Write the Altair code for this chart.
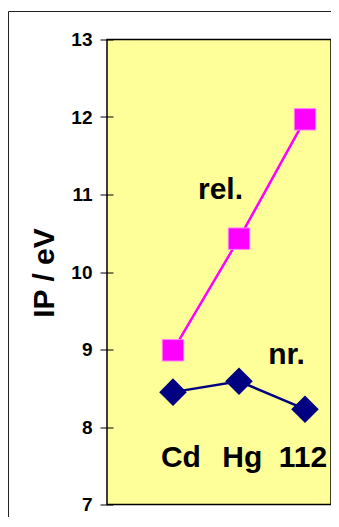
import altair as alt
import pandas as pd

# ---- data ----
elements = ["Cd", "Hg", "112"]
element_index = [0, 1, 2]
ip_rel = [8.99, 10.43, 11.97]   # relativistic
ip_nr = [8.45, 8.59, 8.23]      # non-relativistic
y_ticks = [7, 8, 9, 10, 11, 12, 13]

series_names = ["rel.", "nr."]
series_label_i = [0.72, 1.72]
series_label_ip = [10.94, 8.81]
element_label_i = [0.12, 1.05, 1.97]
element_label_ip = [7.49, 7.49, 7.49]

FONT = "Liberation Sans"

rel_df = pd.DataFrame({"i": element_index, "ip": ip_rel, "el": elements})
nr_df = pd.DataFrame({"i": element_index, "ip": ip_nr, "el": elements})
series_lab_df = pd.DataFrame({"i": series_label_i, "ip": series_label_ip, "t": series_names})
elem_lab_df = pd.DataFrame({"i": element_label_i, "ip": element_label_ip, "t": elements})

x_enc = alt.X("i:Q", scale=alt.Scale(domain=[-1, 2.394], nice=False, zero=False), axis=None)
y_enc = alt.Y(
    "ip:Q",
    scale=alt.Scale(domain=[7, 13], nice=False, zero=False),
    axis=alt.Axis(
        values=y_ticks, title="IP / eV", offset=-6, tickSize=13, tickColor="black",
        tickWidth=1, domain=False, grid=False,
        labelFont=FONT, labelFontSize=19, labelFontWeight="bold", labelColor="black",
        labelPadding=8,
        titleFont=FONT, titleFontSize=30, titleFontWeight="bold", titleColor="black",
        titleAngle=270, titleAlign="center", titleBaseline="alphabetic",
        titleX=-60, titleY=233,
    ),
)

frame = alt.Chart(alt.Data(values=[{}])).mark_rect(
    filled=False, stroke="#222222", strokeWidth=1, clip=False
).encode(x=alt.value(-98.5), x2=alt.value(500), y=alt.value(-28), y2=alt.value(700))

rel_line = alt.Chart(rel_df).mark_line(color="#FF00FF", strokeWidth=2.5).encode(x=x_enc, y=y_enc)
rel_pts = alt.Chart(rel_df).mark_point(
    shape="square", size=460, filled=True, fill="#FF00FF", stroke="#FF80FF",
    strokeWidth=1, opacity=1
).encode(x=x_enc, y=y_enc)

nr_line = alt.Chart(nr_df).mark_line(color="#000080", strokeWidth=2.5).encode(x=x_enc, y=y_enc)
nr_pts = alt.Chart(nr_df).mark_point(
    shape="diamond", size=760, filled=True, fill="#000080", opacity=1
).encode(x=x_enc, y=y_enc)

text_style = dict(font=FONT, fontSize=30, fontWeight="bold", color="black",
                  baseline="alphabetic", align="center")
series_text = alt.Chart(series_lab_df).mark_text(**text_style).encode(x=x_enc, y=y_enc, text="t:N")
elem_text = alt.Chart(elem_lab_df).mark_text(**text_style).encode(x=x_enc, y=y_enc, text="t:N")

chart = alt.layer(
    frame, rel_line, nr_line, rel_pts, nr_pts, series_text, elem_text
).properties(
    width=224, height=465,
    padding={"left": 99, "top": 31.5, "right": 0, "bottom": 12},
    autosize=alt.AutoSizeParams(type="none"),
    background="white",
).configure_view(
    stroke="black", strokeWidth=1.5, fill="#FFFF99"
)

chart.save("out.html", embed_options={"renderer": "svg", "actions": False})
